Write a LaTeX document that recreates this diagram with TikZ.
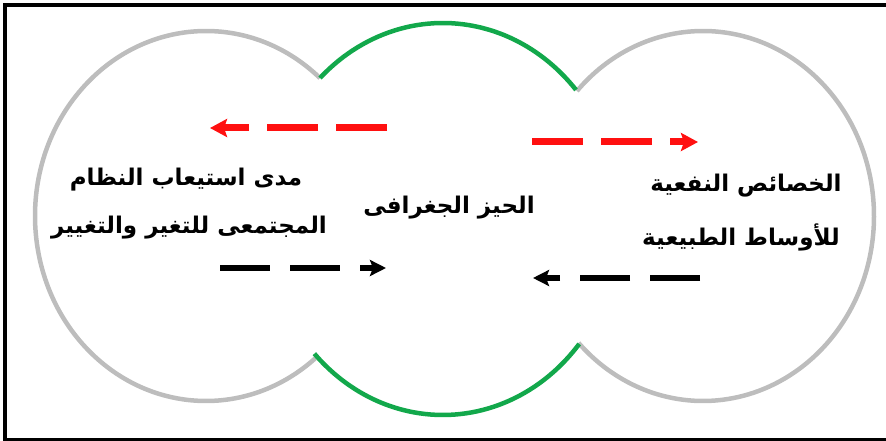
\documentclass[tikz,border=0pt]{standalone}
\usepackage{fontspec}
\usetikzlibrary{arrows.meta}
\TeXXeTstate=1
\newfontfamily\arabicfont[Script=Arabic]{DejaVu Sans}
\definecolor{ringgray}{HTML}{BDBDBD}
\definecolor{ringgreen}{HTML}{12A84B}
\definecolor{arrred}{HTML}{FF1010}
\begin{document}
\begin{tikzpicture}[x=1pt,y=-1pt,
  grayring/.style={draw=ringgray,line width=4.5pt},
  greenring/.style={draw=ringgreen,line width=4.5pt},
  redarrow/.style={draw=arrred,line width=7pt,dash pattern=on 51pt off 18pt,
     -{Stealth[length=17pt,width=18pt,inset=3pt]}},
  blackarrow/.style={draw=black,line width=6.5pt,dash pattern=on 50pt off 20pt,
     -{Stealth[length=16pt,width=16pt,inset=3pt]}},
  label/.style={font=\arabicfont\bfseries\fontsize{23}{27}\selectfont,inner sep=0pt,text=black}]
\useasboundingbox (0,0) rectangle (886,441);
% frame (right side is cut off in the reference)
\draw[line width=3.8pt] (886,5) -- (4.7,5) -- (4.7,439.5) -- (886,439.5);
% centres
\coordinate (cL) at (206,216);
\coordinate (cR) at (703,216);
\coordinate (cM) at (442.9,219);
% left gray circle
\draw[grayring] ([shift={(-48.2:171 and 185)}]cL) arc[start angle=-48.2,end angle=-309.8,x radius=171,y radius=185];
% right gray circle
\draw[grayring] ([shift={(-137.5:171 and 185)}]cR) arc[start angle=-137.5,end angle=136.7,x radius=171,y radius=185];
% middle green arcs
\draw[greenring] ([shift={(-134:176.9 and 196)}]cM) arc[start angle=-134,end angle=-41.2,x radius=176.9,y radius=196];
\draw[greenring] ([shift={(39.6:176.9 and 196)}]cM) arc[start angle=39.6,end angle=136.6,x radius=176.9,y radius=196];
% arrows
\coordinate (r1a) at (387,128); \coordinate (r1b) at (210,128);
\coordinate (r2a) at (532,142); \coordinate (r2b) at (698,142);
\coordinate (b1a) at (220,268); \coordinate (b1b) at (386,268);
\coordinate (b2a) at (700,278); \coordinate (b2b) at (533,278);
\draw[redarrow] (r1a) -- (r1b);
\draw[redarrow] (r2a) -- (r2b);
\draw[blackarrow] (b1a) -- (b1b);
\draw[blackarrow] (b2a) -- (b2b);
% texts
\node[label] (l1) at (186,180) {\beginR مدى استيعاب النظام\endR};
\node[label] (l2) at (189,228) {\beginR المجتمعى للتغير والتغيير\endR};
\node[label] (m) at (449,208) {\beginR الحيز الجغرافى\endR};
\node[label] (r1) at (746,186) {\beginR الخصائص النفعية\endR};
\node[label] (r2) at (741,237) {\beginR للأوساط الطبيعية\endR};
\end{tikzpicture}
\end{document}
